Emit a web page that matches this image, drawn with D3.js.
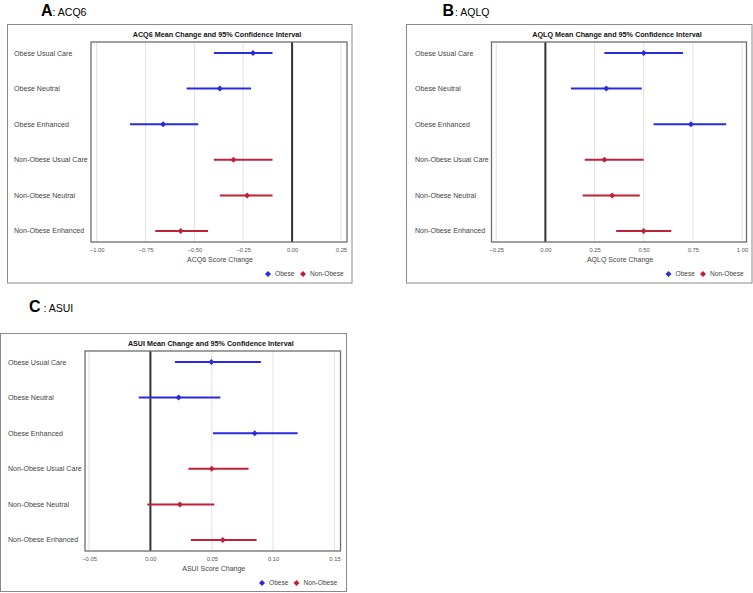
<!DOCTYPE html>
<html>
<head>
<meta charset="utf-8">
<script src="https://cdn.jsdelivr.net/npm/d3@7"></script>
<style>
	body { margin: 0; background: #fff; }
	svg text { font-family: "Liberation Sans", Arial, sans-serif; }
</style>
</head>
<body>
<svg id="chart" width="753" height="593"></svg>
<script>
// categories, top to bottom
const categories = [
	"Obese Usual Care",
	"Obese Neutral",
	"Obese Enhanced",
	"Non-Obese Usual Care",
	"Non-Obese Neutral",
	"Non-Obese Enhanced",
];
const groups = ["Obese", "Obese", "Obese", "Non-Obese", "Non-Obese", "Non-Obese"];

// ACQ6
const acq6Mean = [-0.20, -0.37, -0.66, -0.30, -0.23, -0.57];
const acq6Low = [-0.40, -0.54, -0.83, -0.40, -0.37, -0.70];
const acq6High = [-0.10, -0.21, -0.48, -0.10, -0.10, -0.43];
const acq6Ticks = [-1.0, -0.75, -0.5, -0.25, 0, 0.25];

// AQLQ
const aqlqMean = [0.50, 0.31, 0.74, 0.30, 0.34, 0.50];
const aqlqLow = [0.30, 0.13, 0.55, 0.20, 0.19, 0.36];
const aqlqHigh = [0.70, 0.49, 0.92, 0.50, 0.48, 0.64];
const aqlqTicks = [-0.25, 0, 0.25, 0.5, 0.75, 1.0];

// ASUI
const asuiMean = [0.0497, 0.023, 0.085, 0.050, 0.024, 0.059];
const asuiLow = [0.020, -0.0095, 0.051, 0.031, -0.0025, 0.033];
const asuiHigh = [0.090, 0.057, 0.120, 0.080, 0.052, 0.0865];
const asuiTicks = [-0.05, 0, 0.05, 0.1, 0.15];

const legendItems = ["Obese", "Non-Obese"];
const colors = { "Obese": "#2a2ade", "Non-Obese": "#c0203a" };

const svg = d3.select("#chart");
const diamond = d3.symbol().type(d3.symbolSquare).size(18);

function drawPanel(p) {
	const g = svg.append("g");

	// panel letter
	const head = g.append("text").attr("x", p.letterX).attr("y", p.letterY);
	head.append("tspan").attr("font-size", 16).attr("font-weight", "bold").text(p.letter);
	head.append("tspan").attr("font-size", 10.5).attr("dx", p.letterGap).text(p.sub);

	// outer frame
	g.append("rect")
		.attr("x", p.box[0]).attr("y", p.box[1])
		.attr("width", p.box[2] - p.box[0]).attr("height", p.box[3] - p.box[1])
		.attr("fill", "none").attr("stroke", "#8a8a8a").attr("stroke-width", 1);

	const x = d3.scaleLinear().domain(p.domain).range([p.plot[0], p.plot[2]]);
	const y = d3.scalePoint().domain(categories).range([p.plot[1], p.plot[3]]).padding(0.31);

	// chart title
	g.append("text")
		.attr("x", (p.plot[0] + p.plot[2]) / 2 - 2).attr("y", p.plot[1] - 5)
		.attr("text-anchor", "middle").attr("font-size", 7.2).attr("font-weight", "bold")
		.attr("fill", "#111").text(p.title);

	// grid
	g.append("g").selectAll("line").data(p.ticks).join("line")
		.attr("x1", d => x(d)).attr("x2", d => x(d))
		.attr("y1", p.plot[1]).attr("y2", p.plot[3])
		.attr("stroke", "#e2e2e2").attr("stroke-width", 1);

	// x axis
	const axis = g.append("g")
		.attr("transform", `translate(0,${p.plot[3]})`)
		.call(d3.axisBottom(x).tickValues(p.ticks).tickSize(0).tickPadding(6)
			.tickFormat(d3.format(p.fmt)));
	axis.select(".domain").remove();
	axis.selectAll("text").attr("font-size", 5.8).attr("fill", "#555")
		.style("font-family", "'Liberation Sans', Arial, sans-serif");

	// zero line
	g.append("line")
		.attr("x1", x(0)).attr("x2", x(0))
		.attr("y1", p.plot[1]).attr("y2", p.plot[3])
		.attr("stroke", "#333").attr("stroke-width", 2);

	// plot border
	g.append("rect")
		.attr("x", p.plot[0]).attr("y", p.plot[1])
		.attr("width", p.plot[2] - p.plot[0]).attr("height", p.plot[3] - p.plot[1])
		.attr("fill", "none").attr("stroke", "#6e6e6e").attr("stroke-width", 1.3);

	// category labels
	g.append("g").selectAll("text").data(categories).join("text")
		.attr("x", p.labelX).attr("y", d => y(d)).attr("dy", "0.35em")
		.attr("font-size", 7.1).attr("fill", "#444").text(d => d);

	// intervals and means
	const rows = categories.map((c, i) => ({ c, grp: groups[i], m: p.mean[i], lo: p.low[i], hi: p.high[i] }));
	g.append("g").selectAll("line").data(rows).join("line")
		.attr("x1", d => x(d.lo)).attr("x2", d => x(d.hi))
		.attr("y1", d => y(d.c)).attr("y2", d => y(d.c))
		.attr("stroke", d => colors[d.grp]).attr("stroke-width", 2);
	g.append("g").selectAll("path").data(rows).join("path")
		.attr("d", diamond)
		.attr("transform", d => `translate(${x(d.m)},${y(d.c)}) rotate(45)`)
		.attr("fill", d => colors[d.grp]);

	// axis title
	g.append("text")
		.attr("x", (p.plot[0] + p.plot[2]) / 2 + 1).attr("y", p.plot[3] + 20)
		.attr("text-anchor", "middle").attr("font-size", 7).attr("fill", "#444")
		.text(p.axisTitle);

	// legend
	const lg = g.append("g").selectAll("g").data(legendItems).join("g")
		.attr("transform", (d, i) => `translate(${p.legendX + i * p.legendStep},${p.plot[3] + 32})`);
	lg.append("path").attr("d", diamond).attr("transform", "rotate(45)")
		.attr("fill", d => colors[d]);
	lg.append("text").attr("x", 7).attr("dy", "0.35em")
		.attr("font-size", 6.6).attr("fill", "#444").text(d => d);
}

drawPanel({
	letter: "A", sub: ": ACQ6", letterX: 41, letterY: 16, letterGap: 0,
	box: [7.5, 24.5, 352, 283], plot: [91, 42, 347, 242],
	domain: [-1.029, 0.281], ticks: acq6Ticks, fmt: ".2f",
	title: "ACQ6 Mean Change and 95% Confidence Interval",
	axisTitle: "ACQ6 Score Change",
	mean: acq6Mean, low: acq6Low, high: acq6High,
	labelX: 14, legendX: 268, legendStep: 35,
});

drawPanel({
	letter: "B", sub: ": AQLQ", letterX: 442.5, letterY: 16, letterGap: 1,
	box: [406.5, 24.5, 752, 283], plot: [491.5, 42, 746.5, 242],
	domain: [-0.274, 1.023], ticks: aqlqTicks, fmt: ".2f",
	title: "AQLQ Mean Change and 95% Confidence Interval",
	axisTitle: "AQLQ Score Change",
	mean: aqlqMean, low: aqlqLow, high: aqlqHigh,
	labelX: 415, legendX: 668.5, legendStep: 34.5,
});

drawPanel({
	letter: "C", sub: " : ASUI", letterX: 29, letterY: 312, letterGap: 0,
	box: [0.5, 333.5, 346.5, 591.5], plot: [85, 351, 340.5, 551],
	domain: [-0.0533, 0.1549], ticks: asuiTicks, fmt: ".2f",
	title: "ASUI Mean Change and 95% Confidence Interval",
	axisTitle: "ASUI Score Change",
	mean: asuiMean, low: asuiLow, high: asuiHigh,
	labelX: 8, legendX: 262, legendStep: 34.5,
});
</script>
</body>
</html>
